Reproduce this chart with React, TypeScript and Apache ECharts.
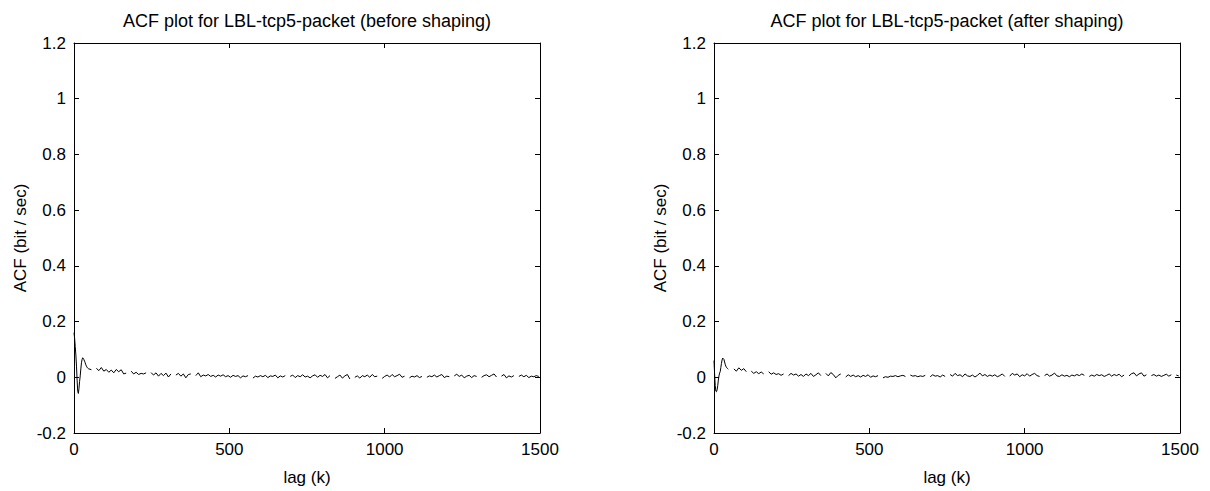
import React, { useEffect, useRef } from "react";
import * as echarts from "echarts";

// Titles and axis labels
const titles = [
  "ACF plot for LBL-tcp5-packet (before shaping)",
  "ACF plot for LBL-tcp5-packet (after shaping)",
];
const xName = "lag (k)";
const yName = "ACF (bit / sec)";

// lags 0..46, step 2
const beforeEarly = [
  0.16, 0.14, 0.11, 0.08, 0.04, -0.01, -0.05, -0.058, -0.04, -0.015, 0.005, 0.03,
  0.052, 0.064, 0.07, 0.068, 0.063, 0.058, 0.052, 0.045, 0.04, 0.036, 0.033, 0.031,
];
// lags 48..1496, step 8 (null = gap in the trace)
const beforeTail = [
  0.03, 0.027, null, 0.032, 0.024, 0.035, 0.022, 0.028, 0.018, 0.026,
  0.016, 0.028, 0.02, 0.027, 0.012, 0.015, null, 0.022, 0.012, 0.018,
  0.01, 0.014, 0.012, 0.016, null, 0.017, 0.008, 0.016, 0.004, 0.014,
  0.006, 0.015, 0.001, 0.012, null, 0.008, 0.014, 0.004, 0.012, -0.002,
  0.01, 0.012, null, 0.006, 0.016, 0.002, 0.008, 0.005, 0.01, 0.003,
  0.007, 0.001, 0.008, 0.004, 0.009, 0.002, 0.006, 0.0, 0.007, 0.003,
  0.006, -0.002, 0.005, 0.002, 0.006, null, -0.003, 0.004, 0.001, 0.006,
  0.002, 0.007, -0.001, 0.005, 0.003, 0.008, -0.002, 0.005, 0.001, 0.006,
  null, 0.003, 0.008, -0.001, 0.006, 0.002, 0.009, 0.001, 0.004, -0.002,
  0.005, 0.009, 0.0, 0.007, 0.003, 0.01, -0.002, 0.006, null, -0.004,
  0.002, 0.008, -0.003, 0.005, 0.01, -0.006, null, 0.0, 0.005, -0.003,
  0.006, 0.002, 0.008, 0.0, 0.01, 0.002, 0.004, null, -0.004, 0.003,
  0.008, 0.001, 0.01, 0.002, 0.006, 0.011, 0.0, 0.004, null, -0.002,
  0.004, 0.001, 0.006, -0.001, 0.003, null, 0.0, 0.005, 0.002, 0.008,
  0.001, 0.006, 0.01, -0.001, 0.004, 0.002, null, 0.005, 0.011, 0.003,
  0.008, -0.002, 0.004, 0.007, -0.001, 0.006, 0.003, null, 0.0, 0.006,
  0.009, 0.002, 0.007, 0.012, 0.001, null, 0.004, 0.01, -0.002, 0.005,
  0.001, 0.006, null, 0.003, 0.008, 0.002, 0.007, -0.001, 0.004, 0.002,
  0.006, 0.003,
];

const afterEarly = [
  0.06, 0.01, -0.03, -0.05, -0.052, -0.045, -0.03, -0.01, 0.005, 0.015, 0.02, 0.035,
  0.05, 0.062, 0.069, 0.07, 0.064, 0.055, 0.047, 0.04, 0.036, 0.033, 0.031, 0.029,
];
const afterTail = [
  0.028, null, 0.03, 0.022, 0.034, 0.025, 0.031, 0.02, null, 0.022,
  0.014, 0.02, 0.013, 0.019, 0.012, null, 0.02, 0.011, 0.016, 0.01,
  0.013, 0.007, 0.012, null, 0.006, 0.014, 0.008, 0.012, 0.004, 0.01,
  0.003, 0.012, 0.006, 0.014, 0.003, 0.009, 0.016, 0.006, null, 0.014,
  0.005, 0.017, 0.01, -0.002, 0.007, 0.012, null, 0.001, 0.009, 0.003,
  0.008, 0.002, 0.006, 0.001, 0.007, 0.003, 0.009, 0.0, 0.005, 0.002,
  0.006, null, -0.002, 0.002, 0.0, 0.004, 0.003, 0.006, 0.002, 0.005,
  0.007, 0.003, null, 0.008, 0.004, 0.006, 0.002, 0.005, 0.003, 0.007,
  null, 0.002, 0.009, 0.004, 0.006, 0.001, 0.008, 0.003, null, 0.01,
  0.004, 0.014, 0.006, 0.009, 0.002, 0.012, 0.005, 0.003, 0.008, 0.001,
  0.007, 0.015, 0.005, 0.01, 0.003, 0.008, 0.004, 0.009, 0.002, 0.006,
  0.012, 0.003, null, 0.004, 0.014, 0.008, 0.012, 0.002, 0.009, 0.005,
  0.013, 0.004, 0.01, 0.014, 0.006, 0.003, null, 0.006, 0.012, 0.004,
  0.008, 0.015, 0.005, 0.003, 0.009, 0.004, 0.007, 0.002, 0.008, 0.005,
  0.01, 0.006, 0.012, 0.007, null, 0.003, 0.008, 0.004, 0.01, 0.006,
  0.009, 0.003, 0.007, 0.012, 0.004, 0.01, 0.006, 0.011, 0.002, 0.008,
  null, 0.005, 0.013, 0.016, 0.005, 0.012, 0.016, 0.004, 0.009, null,
  0.006, 0.01, 0.004, 0.008, 0.003, 0.007, 0.011, 0.004, 0.009, null,
  0.008, 0.005,
];

const EARLY_STEP = 2;
const TAIL_START = 48;
const TAIL_STEP = 8;

function toPairs(early: (number | null)[], tail: (number | null)[]) {
  const out: [number, number | null][] = [];
  early.forEach((v, i) => out.push([i * EARLY_STEP, v]));
  tail.forEach((v, i) => out.push([TAIL_START + i * TAIL_STEP, v]));
  return out;
}

const FONT = "Liberation Sans, Arial, Helvetica, sans-serif";
const GRID_LEFT = [74, 714];
const GRID_TOP = 43;
const GRID_W = 466;
const GRID_H = 396;

export default function App() {
  const ref = useRef<HTMLDivElement>(null);
  useEffect(() => {
    document.body.style.margin = "0";
    const chart = echarts.init(ref.current!, null, { renderer: "svg" });
    const black = { color: "#000", width: 1 };
    const grids = GRID_LEFT.map((l) => ({ left: l, top: GRID_TOP, width: GRID_W, height: GRID_H }));
    const xAxes: any[] = [];
    const yAxes: any[] = [];
    grids.forEach((_, g) => {
      xAxes.push({
        type: "value", gridIndex: g, min: 0, max: 1500, interval: 500, position: "bottom",
        axisLine: { show: true, onZero: false, lineStyle: black },
        axisTick: { show: true, inside: true, length: 5, lineStyle: black },
        axisLabel: {
          color: "#000", fontSize: 17, fontFamily: FONT, margin: 8,
          formatter: (v: number) => String(v),
        },
        splitLine: { show: false },
        name: xName, nameLocation: "middle", nameGap: 36,
        nameTextStyle: { color: "#000", fontSize: 17, fontFamily: FONT },
      });
      xAxes.push({
        type: "value", gridIndex: g, min: 0, max: 1500, interval: 500, position: "top",
        axisLine: { show: true, onZero: false, lineStyle: black },
        axisTick: { show: true, inside: true, length: 5, lineStyle: black },
        axisLabel: { show: false }, splitLine: { show: false },
      });
      yAxes.push({
        type: "value", gridIndex: g, min: -0.2, max: 1.2, interval: 0.2, position: "left",
        axisLine: { show: true, onZero: false, lineStyle: black },
        axisTick: { show: true, inside: true, length: 5, lineStyle: black },
        axisLabel: {
          color: "#000", fontSize: 17, fontFamily: FONT, margin: 8,
          formatter: (v: number) => String(Math.round(v * 10) / 10),
        },
        splitLine: { show: false },
        name: yName, nameLocation: "middle", nameGap: 45,
        nameTextStyle: { color: "#000", fontSize: 17, fontFamily: FONT },
      });
      yAxes.push({
        type: "value", gridIndex: g, min: -0.2, max: 1.2, interval: 0.2, position: "right",
        axisLine: { show: true, onZero: false, lineStyle: black },
        axisTick: { show: true, inside: true, length: 5, lineStyle: black },
        axisLabel: { show: false }, splitLine: { show: false },
      });
    });
    const datasets = [toPairs(beforeEarly, beforeTail), toPairs(afterEarly, afterTail)];
    chart.setOption({
      animation: false,
      backgroundColor: "#fff",
      grid: grids,
      xAxis: xAxes,
      yAxis: yAxes,
      graphic: titles.map((t, g) => ({
        type: "text",
        x: GRID_LEFT[g] + GRID_W / 2,
        y: 21,
        style: {
          text: t, fill: "#000", fontSize: 18, fontFamily: FONT,
          textAlign: "center", textVerticalAlign: "middle",
        },
      })),
      series: datasets.map((d, g) => ({
        type: "line",
        xAxisIndex: g * 2,
        yAxisIndex: g * 2,
        data: d,
        showSymbol: false,
        connectNulls: false,
        lineStyle: { color: "#000", width: 1 },
        clip: true,
      })),
    });
    return () => chart.dispose();
  }, []);
  return <div ref={ref} style={{ width: 1210, height: 491 }} />;
}
